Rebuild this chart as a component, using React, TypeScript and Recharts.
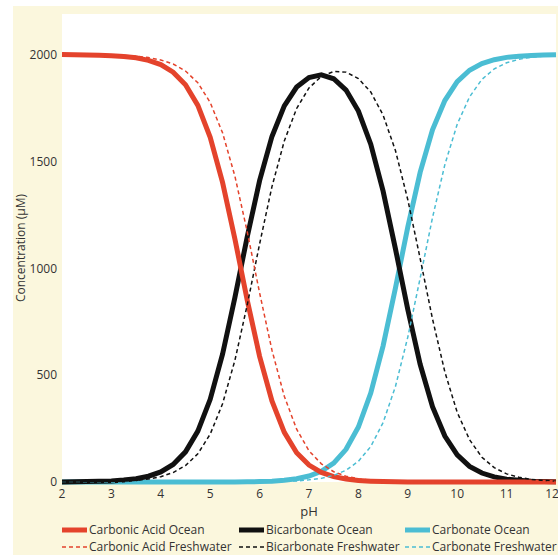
import { LineChart, Line, XAxis, YAxis, CartesianGrid } from 'recharts'

// pH steps and concentrations (µM)
const pH = [
  2, 2.25, 2.5, 2.75, 3, 3.25, 3.5, 3.75, 4, 4.25, 4.5, 4.75, 5, 5.25, 5.5, 5.75, 6, 6.25, 6.5, 6.75, 7,
  7.25, 7.5, 7.75, 8, 8.25, 8.5, 8.75, 9, 9.25, 9.5, 9.75, 10, 10.25, 10.5, 10.75, 11, 11.25, 11.5, 11.75, 12,
]

const carbonicOcean = [
  2000, 1999, 1998, 1997, 1995, 1991, 1985, 1973, 1953, 1918, 1859, 1762, 1613, 1402, 1137, 851, 588, 379, 232, 137, 79,
  45, 25, 14, 7, 4, 2, 1, 0, 0, 0, 0, 0, 0, 0, 0, 0, 0, 0, 0, 0,
]
const bicarbonateOcean = [
  0, 1, 2, 3, 5, 9, 15, 27, 47, 82, 141, 238, 387, 598, 863, 1148, 1410, 1617, 1760, 1848, 1893,
  1905, 1887, 1834, 1736, 1581, 1361, 1091, 807, 551, 352, 215, 127, 73, 42, 24, 13, 8, 4, 2, 1,
]
const carbonateOcean = [
  0, 0, 0, 0, 0, 0, 0, 0, 0, 0, 0, 0, 0, 0, 0, 1, 2, 4, 8, 15, 28,
  50, 88, 153, 257, 416, 637, 908, 1193, 1449, 1648, 1785, 1873, 1927, 1958, 1976, 1987, 1992, 1996, 1998, 1999,
]
const carbonicFresh = [
  2000, 2000, 1999, 1999, 1997, 1996, 1992, 1986, 1975, 1956, 1923, 1868, 1776, 1634, 1431, 1171, 885, 617, 401, 247, 146,
  85, 48, 27, 15, 8, 4, 2, 1, 0, 0, 0, 0, 0, 0, 0, 0, 0, 0, 0, 0,
]
const bicarbonateFresh = [
  0, 0, 1, 1, 3, 4, 8, 14, 25, 44, 77, 132, 224, 366, 569, 829, 1114, 1382, 1596, 1748, 1844,
  1898, 1921, 1918, 1888, 1825, 1717, 1551, 1321, 1046, 763, 515, 326, 198, 116, 67, 38, 22, 12, 7, 4,
]
const carbonateFresh = [
  0, 0, 0, 0, 0, 0, 0, 0, 0, 0, 0, 0, 0, 0, 0, 0, 1, 1, 3, 5, 10,
  17, 31, 55, 97, 166, 278, 447, 678, 954, 1237, 1485, 1674, 1802, 1884, 1933, 1962, 1978, 1988, 1993, 1996,
]

const xTicks = [2, 3, 4, 5, 6, 7, 8, 9, 10, 11, 12]
const yTicks = [0, 500, 1000, 1500, 2000]

const RED = '#e4432c'
const BLACK = '#111111'
const CYAN = '#4bbdd3'
const FONT = '"Open Sans", "Noto Sans", sans-serif'

const data = pH.map((p, i) => ({
  pH: p,
  carbonicOcean: carbonicOcean[i],
  bicarbonateOcean: bicarbonateOcean[i],
  carbonateOcean: carbonateOcean[i],
  carbonicFresh: carbonicFresh[i],
  bicarbonateFresh: bicarbonateFresh[i],
  carbonateFresh: carbonateFresh[i],
}))

// drawing order: cyan under black under red, dashes on top
const series = [
  { key: 'carbonateOcean', name: 'Carbonate Ocean', color: CYAN, dashed: false },
  { key: 'bicarbonateOcean', name: 'Bicarbonate Ocean', color: BLACK, dashed: false },
  { key: 'carbonicOcean', name: 'Carbonic Acid Ocean', color: RED, dashed: false },
  { key: 'carbonateFresh', name: 'Carbonate Freshwater', color: CYAN, dashed: true },
  { key: 'bicarbonateFresh', name: 'Bicarbonate Freshwater', color: BLACK, dashed: true },
  { key: 'carbonicFresh', name: 'Carbonic Acid Freshwater', color: RED, dashed: true },
]

const legendRows = [
  ['carbonicOcean', 'bicarbonateOcean', 'carbonateOcean'],
  ['carbonicFresh', 'bicarbonateFresh', 'carbonateFresh'],
]
const legendCols = [62, 239, 405]

function LegendItem({ k }: { k: string }) {
  const s = series.find((x) => x.key === k)!
  return (
    <div style={{ display: 'flex', alignItems: 'center' }}>
      <svg width={25} height={8} style={{ marginRight: 2 }}>
        <line
          x1={0}
          y1={4}
          x2={25}
          y2={4}
          stroke={s.color}
          strokeWidth={s.dashed ? 1.5 : 5}
          strokeDasharray={s.dashed ? '4 3' : undefined}
        />
      </svg>
      <span>{s.name}</span>
    </div>
  )
}

export default function App() {
  const tickStyle = { fontSize: 12, fill: '#333', fontFamily: FONT }
  return (
    <div style={{ position: 'absolute', left: 0, top: 0, width: 558, height: 555, background: '#fff', overflow: 'hidden' }}>
      <div style={{ position: 'absolute', left: 13, top: 6, right: 0, bottom: 0, background: '#fbf7dd' }} />
      <div style={{ position: 'absolute', left: 0, top: 0 }}>
        <LineChart width={558} height={525} data={data} margin={{ top: 14, right: 2, left: 0, bottom: 0 }}>
          <CartesianGrid fill="#ffffff" horizontal={false} vertical={false} />
          <XAxis
            dataKey="pH"
            type="number"
            domain={[2, 12]}
            ticks={xTicks}
            axisLine={false}
            tickLine={false}
            tickSize={0}
            tickMargin={7}
            height={43}
            tick={tickStyle}
            label={{ value: 'pH', position: 'insideBottom', offset: 9, style: { fontSize: 13, fill: '#333', fontFamily: FONT } }}
          />
          <YAxis
            type="number"
            domain={[0, 2190]}
            ticks={yTicks}
            axisLine={false}
            tickLine={false}
            tickSize={0}
            tickMargin={5}
            width={62}
            tick={tickStyle}
            label={{
              value: 'Concentration (µM)',
              angle: -90,
              position: 'insideLeft',
              offset: 21,
              style: { textAnchor: 'middle', fontSize: 12, fill: '#333', fontFamily: FONT },
            }}
          />
          {series.map((s) => (
            <Line
              key={s.key}
              type="linear"
              dataKey={s.key}
              name={s.name}
              stroke={s.color}
              strokeWidth={s.dashed ? 1.5 : 5}
              strokeDasharray={s.dashed ? '4 3' : undefined}
              dot={false}
              activeDot={false}
              isAnimationActive={false}
            />
          ))}
        </LineChart>
      </div>
      {legendRows.map((row, r) => (
        <div key={r}>
          {row.map((k, c) => (
            <div
              key={k}
              style={{
                position: 'absolute',
                left: legendCols[c],
                top: 524 + r * 17,
                fontSize: 12,
                lineHeight: '12px',
                height: 12,
                color: '#333',
                fontFamily: FONT,
                whiteSpace: 'nowrap',
              }}
            >
              <LegendItem k={k} />
            </div>
          ))}
        </div>
      ))}
    </div>
  )
}
